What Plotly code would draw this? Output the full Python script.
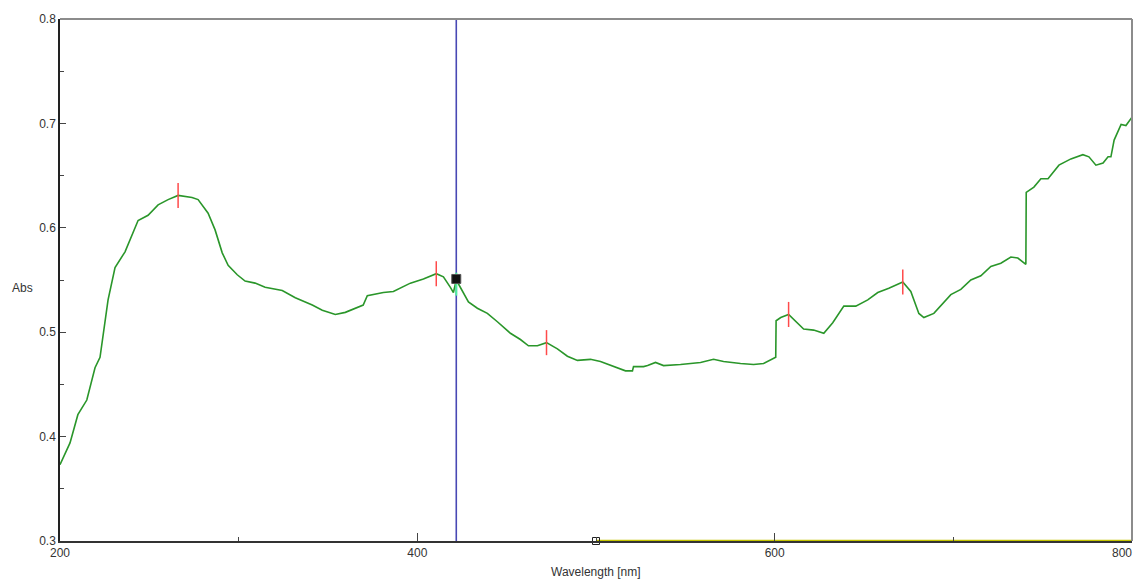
import plotly.graph_objects as go

# Spectrum trace (wavelength nm, absorbance)
wavelength = [200, 205.6, 210, 215, 219.6, 222.4, 226.9, 230.8, 236.4, 240.3, 243.7, 249.3, 254.9,
              260.5, 266.1, 273.9, 277.3, 282.9, 286.8, 290.8, 294.1, 299.2, 303.6, 309.2, 314.8,
              324.4, 331.7, 341.2, 346.8, 354.1, 359.7, 369.7, 372, 381, 386.6, 396.1, 403.4,
              410.6, 414.6, 418.5, 420.2, 421.8, 425.2, 428.6, 433.6, 439.2, 444.8, 452.1, 457.7,
              462.2, 467.2, 472.3, 478.4, 484, 489.6, 496.9, 502.5, 509.8, 516.5, 520.4, 521,
              526.6, 528.9, 533.3, 537.8, 547.3, 554.6, 558.5, 565.8, 571.4, 580.9, 588.2, 593.8,
              597.8, 600.6, 600.8, 603.4, 607.8, 611.8, 616.2, 621.8, 627.5, 632.5, 638.7, 645.4,
              652.1, 657.7, 663.9, 671.7, 676.2, 680.7, 683.5, 689.1, 698.6, 704.2, 709.8, 715.4,
              721, 726.6, 732.2, 736.1, 740.6, 740.8, 745.1, 749, 753, 759.1, 765.8, 772.5,
              775.9, 779.8, 783.8, 786.6, 788.2, 790, 793.9, 796.6, 800]
absorbance = [0.373, 0.394, 0.421, 0.435, 0.466, 0.476, 0.531, 0.562, 0.577, 0.593, 0.607, 0.612, 0.622,
              0.627, 0.631, 0.629, 0.627, 0.614, 0.598, 0.576, 0.564, 0.555, 0.549, 0.547, 0.543,
              0.540, 0.533, 0.526, 0.521, 0.517, 0.519, 0.526, 0.535, 0.538, 0.539, 0.547, 0.551,
              0.556, 0.553, 0.543, 0.538, 0.550, 0.540, 0.529, 0.523, 0.518, 0.510, 0.499, 0.493,
              0.487, 0.487, 0.490, 0.484, 0.477, 0.473, 0.474, 0.472, 0.467, 0.463, 0.463, 0.467,
              0.467, 0.468, 0.471, 0.468, 0.469, 0.470, 0.471, 0.474, 0.472, 0.470, 0.469, 0.470,
              0.474, 0.476, 0.511, 0.514, 0.517, 0.510, 0.503, 0.502, 0.499, 0.509, 0.525, 0.525,
              0.531, 0.538, 0.542, 0.548, 0.539, 0.518, 0.514, 0.518, 0.536, 0.541, 0.550, 0.554,
              0.563, 0.566, 0.572, 0.571, 0.565, 0.634, 0.639, 0.647, 0.647, 0.660, 0.666, 0.670,
              0.668, 0.660, 0.662, 0.668, 0.668, 0.684, 0.699, 0.698, 0.706]

# Peak picks (red markers)
peak_wl = [266.1, 410.6, 472.3, 607.8, 671.7]
peak_abs = [0.631, 0.556, 0.490, 0.517, 0.548]

# Cursor
cursor_wl = 421.8
cursor_abs = 0.551

# Baseline segment (yellow) along bottom
base_wl = [500, 800]
base_abs = [0.3, 0.3]

x_ticks = [200, 400, 600, 800]
x_ticklabels = ["200", "400", "600", "800"]
x_minor = [300, 500, 700]
y_ticks = [0.3, 0.4, 0.5, 0.6, 0.7, 0.8]
y_ticklabels = ["0.3", "0.4", "0.5", "0.6", "0.7", "0.8"]

fig = go.Figure()

# baseline
fig.add_trace(go.Scatter(x=base_wl, y=base_abs, mode="lines",
                         line=dict(color="#c4c400", width=2.5), hoverinfo="skip", cliponaxis=False))
fig.add_trace(go.Scatter(x=[base_wl[0]], y=[base_abs[0]], mode="markers",
                         marker=dict(symbol="square-open", size=7, color="#222", line=dict(width=1)),
                         cliponaxis=False, hoverinfo="skip"))

# cursor vertical line
fig.add_trace(go.Scatter(x=[cursor_wl, cursor_wl], y=[0.3, 0.8], mode="lines",
                         line=dict(color="#4848b4", width=1.6), hoverinfo="skip"))

# spectrum
fig.add_trace(go.Scatter(x=wavelength, y=absorbance, mode="lines",
                         line=dict(color="#2a962a", width=1.6)))

# peak ticks
px, py = [], []
for w, a in zip(peak_wl, peak_abs):
    px += [w, w, None]
    py += [a - 0.012, a + 0.012, None]
fig.add_trace(go.Scatter(x=px, y=py, mode="lines", line=dict(color="#ff4a4a", width=1.5),
                         hoverinfo="skip"))

# cursor highlight and marker
fig.add_trace(go.Scatter(x=[cursor_wl, cursor_wl], y=[cursor_abs - 0.016, cursor_abs + 0.006],
                         mode="lines", line=dict(color="#50f0a0", width=2), hoverinfo="skip"))
fig.add_trace(go.Scatter(x=[cursor_wl], y=[cursor_abs], mode="markers",
                         marker=dict(symbol="square", size=9, color="#111",
                                     line=dict(color="#555", width=1)),
                         hoverinfo="skip"))

# the last x tick label is drawn as an annotation, right-aligned so it stays inside the page
annotations = [
    dict(text="Abs", xref="paper", yref="paper", x=-0.035, y=0.485, xanchor="center",
         yanchor="middle", showarrow=False, font=dict(size=12, color="#333")),
    dict(text="Wavelength [nm]", xref="paper", yref="paper", x=0.5, y=0, yshift=-31,
         xanchor="center", yanchor="middle", showarrow=False, font=dict(size=12, color="#333")),
    dict(text=x_ticklabels[-1], xref="x", yref="paper", x=x_ticks[-1], y=0, yshift=-3,
         xanchor="right", yanchor="top", xshift=2, showarrow=False,
         font=dict(size=12, color="#333")),
]

fig.update_layout(
    width=1134, height=571,
    margin=dict(l=52, r=10, t=11, b=38),
    paper_bgcolor="white", plot_bgcolor="white",
    showlegend=False,
    font=dict(family="Liberation Sans, Arial, sans-serif", size=12, color="#333"),
    xaxis=dict(range=[200, 800], tickvals=x_ticks,
               ticktext=x_ticklabels[:-1] + [""],
               ticks="inside", ticklen=8, tickcolor="#444", showgrid=False, zeroline=False,
               showline=True, linecolor="#333", linewidth=1.5,
               automargin=False,
               minor=dict(tickvals=x_minor, ticks="inside", ticklen=4, tickcolor="#444"),
               tickfont=dict(size=12, color="#333")),
    yaxis=dict(range=[0.3, 0.8], tickvals=y_ticks, ticktext=y_ticklabels,
               ticks="inside", ticklen=6, tickcolor="#444", showgrid=False, zeroline=False,
               showline=True, linecolor="#222", linewidth=1.5, automargin=False,
               minor=dict(dtick=0.05, ticks="inside", ticklen=4, tickcolor="#444"),
               tickfont=dict(size=12, color="#333")),
    shapes=[
        dict(type="line", xref="paper", yref="paper", x0=0, x1=1, y0=1, y1=1,
             line=dict(color="#8c8c8c", width=2)),
        dict(type="line", xref="paper", yref="paper", x0=1, x1=1, y0=0, y1=1,
             line=dict(color="#8c8c8c", width=2)),
    ],
    annotations=annotations,
)

fig.write_html("out.html")
